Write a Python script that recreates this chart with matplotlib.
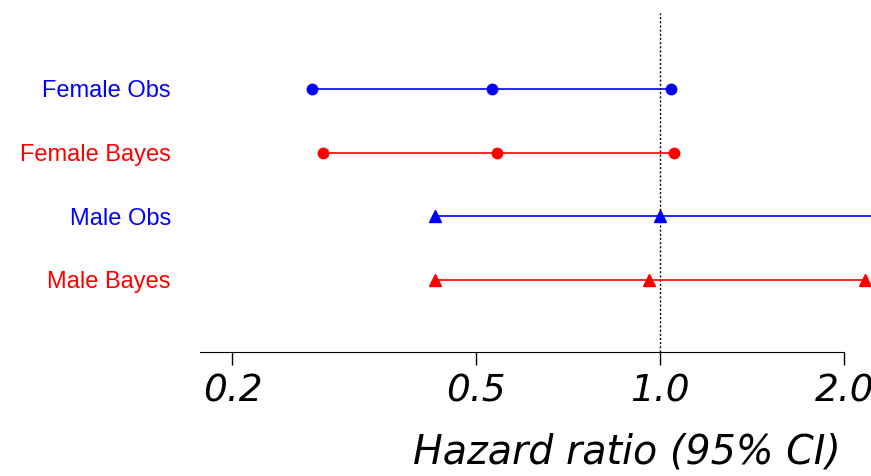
import matplotlib
matplotlib.use("Agg")
import matplotlib.pyplot as plt

# hazard ratios (lower, estimate, upper)
groups = ["Female Obs", "Female Bayes", "Male Obs", "Male Bayes"]
lower = [0.270, 0.281, 0.429, 0.429]
estimate = [0.532, 0.542, 1.00, 0.96]
upper = [1.04, 1.054, 3.0, 2.16]
colors = ["blue", "red", "blue", "red"]
markers = ["o", "o", "^", "^"]
rows = [4, 3, 2, 1]

tick_vals = [0.2, 0.5, 1.0, 2.0]
tick_labels = ["0.2", "0.5", "1.0", "2.0"]

W, H = 871, 476
fig = plt.figure(figsize=(W / 100, H / 100), dpi=100)
ax = fig.add_axes([200 / W, 1 - 352 / H, 1 - 200 / W, (352 - 13) / H])

for r, lo, est, hi, c, m in zip(rows, lower, estimate, upper, colors, markers):
    ax.plot([lo, hi], [r, r], color=c, lw=1.2)
    ax.plot([lo, est, hi], [r, r, r], ls="none", marker=m, color=c,
            markersize=7.5 if m == "o" else 8.5, clip_on=False, zorder=3)

ax.axvline(1.0, color="black", ls=(0, (1.5, 1.5)), lw=1.0, zorder=1)

ax.set_xscale("log")
ax.set_xlim(0.177, 2.21)
ax.set_ylim(-0.131, 5.19)

ax.set_xticks(tick_vals)
ax.set_xticklabels(tick_labels)
ax.xaxis.set_minor_locator(matplotlib.ticker.NullLocator())
ax.tick_params(axis="x", direction="out", length=9.5, width=1.0, pad=6)
for lbl in ax.get_xticklabels():
    lbl.set_fontsize(27)
    lbl.set_fontstyle("italic")

ax.set_yticks(rows)
ax.set_yticklabels(groups, fontsize=17, family="Liberation Sans")
ax.tick_params(axis="y", length=0, pad=21)
for lbl, c in zip(ax.get_yticklabels(), colors):
    lbl.set_color(c)

for s in ["top", "right", "left"]:
    ax.spines[s].set_visible(False)
ax.spines["bottom"].set_bounds(0.177, 2.0)

fig.text(627 / W, 1 - 452 / H, "Hazard ratio (95% CI)", fontsize=28.5,
         style="italic", ha="center", va="center")

fig.savefig("out.png", dpi=100)
